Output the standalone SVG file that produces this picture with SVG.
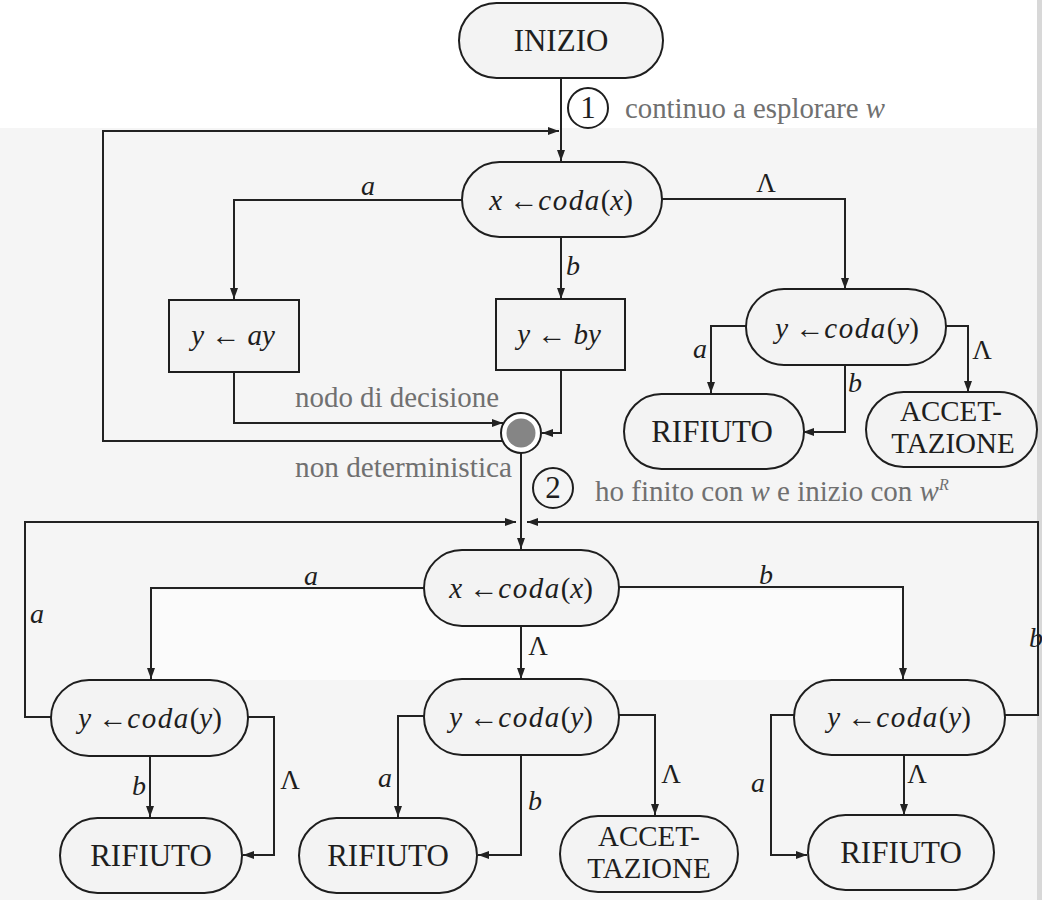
<svg xmlns="http://www.w3.org/2000/svg" width="1042" height="900" viewBox="0 0 1042 900">
<style>
.n{fill:#f3f3f3;stroke:#1e1e1e;stroke-width:2}
.c{fill:none;stroke:#222;stroke-width:2}
text{font-family:"Liberation Serif","DejaVu Serif",serif}
.t{font-size:31px;fill:#1e1e1e;text-anchor:middle}
.a2{font-size:29px;fill:#1e1e1e;text-anchor:middle}
.m{font-size:29px;fill:#1e1e1e;text-anchor:middle}
.i{font-style:italic}
.l{font-size:28px;fill:#1e1e1e;font-style:italic;text-anchor:middle}
.L{font-size:27px;fill:#1e1e1e;text-anchor:middle}
.g{font-size:29px;fill:#707070}
.k{fill:none;stroke:#1e1e1e;stroke-width:2}
</style>
<defs>
<marker id="ar" markerUnits="userSpaceOnUse" markerWidth="11" markerHeight="8" refX="11" refY="4" orient="auto">
<path d="M0,0 L11,4 L0,8 z" fill="#222"/>
</marker>
</defs>
<rect x="0" y="0" width="1042" height="900" fill="#ffffff"/>
<path d="M0,128 H1037 V900 H0 z" fill="#f5f5f5"/>
<rect x="152" y="590" width="750" height="90" fill="#fbfbfb"/>
<rect x="1037" y="0" width="5" height="900" fill="#d8d8d8"/>

<g id="connectors">
<path class="c" d="M561,78 V161" marker-end="url(#ar)"/>
<path class="c" d="M502,441 H103 V131 H559" marker-end="url(#ar)"/>
<path class="c" d="M462,200 H234 V299" marker-end="url(#ar)"/>
<path class="c" d="M561,237 V299" marker-end="url(#ar)"/>
<path class="c" d="M662,199 H845 V289" marker-end="url(#ar)"/>
<path class="c" d="M234,372 V423 H503" marker-end="url(#ar)"/>
<path class="c" d="M561,370 V433 H542" marker-end="url(#ar)"/>
<path class="c" d="M521,453 V549" marker-end="url(#ar)"/>
<path class="c" d="M51,717 H25 V522 H516" marker-end="url(#ar)"/>
<path class="c" d="M1005,715 H1038 V522 H527" marker-end="url(#ar)"/>
<path class="c" d="M746,326 H711 V393" marker-end="url(#ar)"/>
<path class="c" d="M845,365 V432 H803" marker-end="url(#ar)"/>
<path class="c" d="M946,326 H968 V392" marker-end="url(#ar)"/>
<path class="c" d="M424,588 H151 V679" marker-end="url(#ar)"/>
<path class="c" d="M619,587 H903 V679" marker-end="url(#ar)"/>
<path class="c" d="M521,626 V679" marker-end="url(#ar)"/>
<path class="c" d="M150,756 V817" marker-end="url(#ar)"/>
<path class="c" d="M248,717 H274 V855 H243" marker-end="url(#ar)"/>
<path class="c" d="M424,716 H398 V817" marker-end="url(#ar)"/>
<path class="c" d="M521,755 V855 H478" marker-end="url(#ar)"/>
<path class="c" d="M619,715 H655 V815" marker-end="url(#ar)"/>
<path class="c" d="M794,715 H771 V855 H807" marker-end="url(#ar)"/>
<path class="c" d="M904,755 V815" marker-end="url(#ar)"/>
</g>

<g id="labels">
<text class="l" x="368" y="195">a</text>
<text class="L" x="766" y="192">Λ</text>
<text class="l" x="573" y="275">b</text>
<text class="l" x="700" y="358">a</text>
<text class="l" x="855" y="392">b</text>
<text class="L" x="982" y="359">Λ</text>
<text class="l" x="311" y="585">a</text>
<text class="l" x="766" y="584">b</text>
<text class="l" x="37" y="623">a</text>
<text class="L" x="538" y="655">Λ</text>
<text class="l" x="1036" y="647">b</text>
<text class="l" x="139" y="795">b</text>
<text class="L" x="290" y="789">Λ</text>
<text class="l" x="385" y="787">a</text>
<text class="l" x="535" y="810">b</text>
<text class="L" x="671" y="783">Λ</text>
<text class="l" x="758" y="792">a</text>
<text class="L" x="917" y="783">Λ</text>
</g>

<g id="inizio">
<rect class="n" x="459" y="3" width="204" height="75" rx="37.5"/>
<text class="t" x="561" y="51">INIZIO</text>
</g>

<g id="step1">
<circle class="k" cx="588" cy="108" r="20"/>
<text class="t" x="588" y="118" font-size="29">1</text>
<text class="g" x="625" y="118" textLength="260" lengthAdjust="spacingAndGlyphs">continuo a esplorare <tspan class="i">w</tspan></text>
</g>

<g id="x1">
<rect class="n" x="462" y="162" width="200" height="75" rx="37.5"/>
<text class="m" x="561" y="210"><tspan class="i">x</tspan> ←<tspan class="i" letter-spacing="1.5">coda</tspan>(<tspan class="i">x</tspan>)</text>
</g>

<g id="ay">
<rect class="n" x="169" y="300" width="130" height="72"/>
<text class="m" x="233" y="345" font-size="30"><tspan class="i">y</tspan> ← <tspan class="i">ay</tspan></text>
</g>

<g id="by">
<rect class="n" x="496" y="299" width="129" height="71"/>
<text class="m" x="559" y="344" font-size="30"><tspan class="i">y</tspan> ← <tspan class="i">by</tspan></text>
</g>

<g id="y1">
<rect class="n" x="746" y="289" width="200" height="76" rx="38"/>
<text class="m" x="847" y="338"><tspan class="i">y</tspan> ←<tspan class="i" letter-spacing="1.5">coda</tspan>(<tspan class="i">y</tspan>)</text>
</g>

<g id="rif1">
<rect class="n" x="624" y="394" width="180" height="75" rx="37.5"/>
<text class="t" x="712" y="442">RIFIUTO</text>
</g>

<g id="acc1">
<rect class="n" x="866" y="392" width="171" height="75" rx="37.5" fill="#fafafa"/>
<text class="a2" x="951" y="421">ACCET-</text>
<text class="a2" x="953" y="453">TAZIONE</text>
</g>

<g id="decisione">
<circle cx="521" cy="433" r="20" fill="#ffffff" stroke="#1e1e1e" stroke-width="2"/>
<circle cx="521" cy="433" r="14.5" fill="#858585"/>
<text class="g" x="295" y="407" textLength="204" lengthAdjust="spacingAndGlyphs">nodo di decisione</text>
<text class="g" x="295" y="477" textLength="217" lengthAdjust="spacingAndGlyphs">non deterministica</text>
</g>

<g id="step2">
<circle class="k" cx="553" cy="488" r="20"/>
<text class="t" x="553" y="498" font-size="29">2</text>
<text class="g" x="595" y="501" font-size="28">ho finito con <tspan class="i">w</tspan> e inizio con <tspan class="i">w</tspan><tspan class="i" font-size="16" dy="-11">R</tspan></text>
</g>

<g id="x2">
<rect class="n" x="424" y="550" width="195" height="76" rx="38"/>
<text class="m" x="521" y="598"><tspan class="i">x</tspan> ←<tspan class="i" letter-spacing="1.5">coda</tspan>(<tspan class="i">x</tspan>)</text>
</g>

<g id="y2">
<rect class="n" x="51" y="680" width="197" height="76" rx="38"/>
<text class="m" x="150" y="728"><tspan class="i">y</tspan> ←<tspan class="i" letter-spacing="1.5">coda</tspan>(<tspan class="i">y</tspan>)</text>
</g>

<g id="y3">
<rect class="n" x="424" y="679" width="195" height="76" rx="38"/>
<text class="m" x="521" y="727"><tspan class="i">y</tspan> ←<tspan class="i" letter-spacing="1.5">coda</tspan>(<tspan class="i">y</tspan>)</text>
</g>

<g id="y4">
<rect class="n" x="794" y="680" width="211" height="75" rx="37.5"/>
<text class="m" x="899" y="727"><tspan class="i">y</tspan> ←<tspan class="i" letter-spacing="1.5">coda</tspan>(<tspan class="i">y</tspan>)</text>
</g>

<g id="rif2">
<rect class="n" x="60" y="818" width="182" height="75" rx="37.5"/>
<text class="t" x="151" y="866">RIFIUTO</text>
</g>

<g id="rif3">
<rect class="n" x="299" y="818" width="178" height="75" rx="37.5"/>
<text class="t" x="388" y="866">RIFIUTO</text>
</g>

<g id="acc2">
<rect class="n" x="560" y="816" width="178" height="76" rx="38"/>
<text class="a2" x="649" y="846">ACCET-</text>
<text class="a2" x="649" y="878">TAZIONE</text>
</g>

<g id="rif4">
<rect class="n" x="808" y="815" width="186" height="75" rx="37.5"/>
<text class="t" x="901" y="863">RIFIUTO</text>
</g>
</svg>
